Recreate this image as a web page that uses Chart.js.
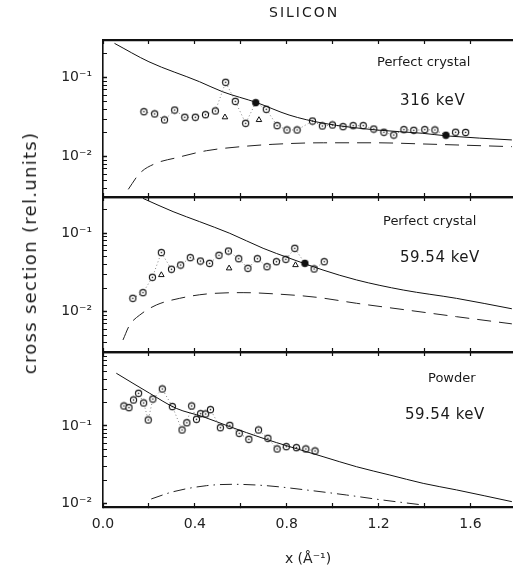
<!DOCTYPE html>
<html><head><meta charset="utf-8">
<script src="https://cdn.jsdelivr.net/npm/chart.js@4.4.1/dist/chart.umd.min.js"></script>
<style>
html,body{margin:0;padding:0;background:#fff;overflow:hidden;}
#wrap{position:relative;width:513px;height:579px;}
canvas{position:absolute;left:0;top:0;}
.lbl{position:absolute;font-family:"DejaVu Sans",sans-serif;color:#1a1a1a;white-space:nowrap;line-height:1;}
</style></head><body>
<div id="wrap">
<canvas id="c1" width="513" height="579"></canvas>
<canvas id="c2" width="513" height="579"></canvas>
<canvas id="c3" width="513" height="579"></canvas>
<div class="lbl" style="left:269px;top:5px;font-size:14px;letter-spacing:2px">SILICON</div>
<div class="lbl" style="left:30px;top:253px;font-size:18px;letter-spacing:1.3px;transform:translate(-50%,-50%) rotate(-90deg)">cross section (rel.units)</div>
<div class="lbl" style="left:377px;top:55px;font-size:13px">Perfect crystal</div>
<div class="lbl" style="left:400px;top:93px;font-size:15px;letter-spacing:0.6px">316 keV</div>
<div class="lbl" style="left:383px;top:214px;font-size:13px">Perfect crystal</div>
<div class="lbl" style="left:400px;top:250px;font-size:15px;letter-spacing:0.5px">59.54 keV</div>
<div class="lbl" style="left:428px;top:371px;font-size:13px">Powder</div>
<div class="lbl" style="left:405px;top:407px;font-size:15px;letter-spacing:0.5px">59.54 keV</div>
</div>
<script>
// ---------- data ----------
const xTickValues = [0.0, 0.2, 0.4, 0.6, 0.8, 1.0, 1.2, 1.4, 1.6];
const xTickLabels = ['0.0', '', '0.4', '', '0.8', '', '1.2', '', '1.6'];
const yDecadeLabels = {'-1': '10\u207B\u00B9', '-2': '10\u207B\u00B2'};

// Panel 1: perfect crystal, 316 keV
const p1SolidX = [0.05, 0.20, 0.42, 0.52, 0.67, 0.81, 0.96, 1.19, 1.39, 1.50, 1.78];
const p1SolidY = [0.272, 0.159, 0.089, 0.0665, 0.0483, 0.0337, 0.0265, 0.0218, 0.0198, 0.0183, 0.0163];
const p1DashX = [0.11, 0.16, 0.23, 0.32, 0.45, 0.60, 0.74, 0.96, 1.19, 1.39, 1.78];
const p1DashY = [0.00386, 0.00617, 0.00824, 0.0097, 0.0119, 0.0134, 0.01435, 0.0150, 0.0150, 0.0145, 0.0134];
const p1PtsX = [0.178, 0.225, 0.268, 0.312, 0.356, 0.402, 0.446, 0.489, 0.534, 0.576, 0.621, 0.665, 0.711, 0.758, 0.801, 0.845,
                0.912, 0.955, 0.999, 1.045, 1.089, 1.133, 1.179, 1.223, 1.266, 1.310, 1.353, 1.401, 1.445, 1.493, 1.535, 1.579];
const p1PtsY = [0.0371, 0.0348, 0.0292, 0.0390, 0.0316, 0.0316, 0.0340, 0.0379, 0.0874, 0.0502, 0.0265, 0.0483, 0.0398, 0.0247, 0.0218, 0.0218,
                0.0283, 0.0245, 0.0252, 0.0240, 0.0247, 0.0247, 0.0224, 0.0204, 0.0188, 0.0220, 0.0216, 0.0220, 0.0218, 0.0187, 0.0204, 0.0203];
const p1TriX = [0.531, 0.679];
const p1TriY = [0.0316, 0.0292];

// Panel 2: perfect crystal, 59.54 keV
const p2SolidX = [0.174, 0.305, 0.421, 0.552, 0.697, 0.813, 0.958, 1.104, 1.307, 1.539, 1.78];
const p2SolidY = [0.279, 0.189, 0.1406, 0.100, 0.0644, 0.0480, 0.0340, 0.0254, 0.0189, 0.0148, 0.0109];
const p2DashX = [0.087, 0.116, 0.16, 0.232, 0.334, 0.45, 0.61, 0.755, 0.929, 1.104, 1.322, 1.539, 1.78];
const p2DashY = [0.00436, 0.00676, 0.00907, 0.01217, 0.01482, 0.01682, 0.0175, 0.01682, 0.01528, 0.0128, 0.01051, 0.00864, 0.0070];
const p2PtsX = [0.130, 0.174, 0.215, 0.254, 0.298, 0.338, 0.380, 0.424, 0.464, 0.505, 0.546, 0.591, 0.631, 0.672, 0.714, 0.755,
                0.796, 0.835, 0.879, 0.919, 0.963];
const p2PtsY = [0.01482, 0.0175, 0.0275, 0.0567, 0.0348, 0.0394, 0.0489, 0.0443, 0.0414, 0.0524, 0.0594, 0.0474, 0.0358, 0.0474, 0.0375, 0.0434,
                0.0466, 0.0644, 0.0414, 0.0351, 0.0434];
const p2TriX = [0.254, 0.549, 0.838];
const p2TriY = [0.0294, 0.0358, 0.0394];

// Panel 3: powder, 59.54 keV
const p3SolidX = [0.058, 0.203, 0.319, 0.435, 0.552, 0.697, 0.813, 0.958, 1.104, 1.249, 1.394, 1.539, 1.78];
const p3SolidY = [0.481, 0.265, 0.169, 0.132, 0.098, 0.0693, 0.054, 0.0401, 0.0297, 0.0232, 0.0181, 0.0149, 0.0105];
const p3DashX = [0.21, 0.305, 0.45, 0.566, 0.711, 0.886, 1.06, 1.22, 1.394];
const p3DashY = [0.01137, 0.0141, 0.0169, 0.0176, 0.0169, 0.01486, 0.0128, 0.0110, 0.0095];
const p3PtsX = [0.091, 0.113, 0.133, 0.155, 0.177, 0.197, 0.217, 0.258, 0.302, 0.344, 0.365, 0.386, 0.407, 0.425, 0.447, 0.468,
                0.511, 0.552, 0.593, 0.635, 0.677, 0.718, 0.758, 0.798, 0.842, 0.883, 0.923];
const p3PtsY = [0.1815, 0.1726, 0.217, 0.265, 0.1986, 0.1197, 0.223, 0.301, 0.178, 0.0888, 0.110, 0.1815, 0.122, 0.144, 0.143, 0.1626,
                0.095, 0.102, 0.0804, 0.0673, 0.0888, 0.0693, 0.0504, 0.054, 0.0524, 0.0504, 0.0475];

// indices of solid (filled) markers
const p1Filled = [11, 29];
const p2Filled = [18];

// ---------- helpers ----------
const zip = (xs, ys) => xs.map((x, i) => ({x: x, y: ys[i]}));

function markerImg(filled) {
  const c = document.createElement('canvas');
  c.width = 9; c.height = 9;
  const g = c.getContext('2d');
  g.beginPath(); g.arc(4.5, 4.5, 3.1, 0, Math.PI * 2);
  g.fillStyle = filled ? '#111' : '#fff'; g.fill();
  g.lineWidth = 1.1; g.strokeStyle = '#111'; g.stroke();
  if (!filled) { g.beginPath(); g.arc(4.5, 4.5, 0.8, 0, Math.PI * 2); g.fillStyle = '#111'; g.fill(); }
  return c;
}
const openMark = markerImg(false), fullMark = markerImg(true);

function yTicks(scale) {
  const out = [];
  for (let e = -3; e <= 0; e++) for (let m = 1; m <= 9; m++) {
    const v = m * Math.pow(10, e);
    if (v >= scale.min * 0.999 && v <= scale.max * 1.001) out.push({value: v, major: m === 1});
  }
  scale.ticks = out;
}
function yLabel(v) {
  const e = Math.round(Math.log10(v));
  if (Math.abs(v / Math.pow(10, e) - 1) < 1e-6 && yDecadeLabels[String(e)]) return yDecadeLabels[String(e)];
  return '';
}
function xTicks(scale) { scale.ticks = xTickValues.map(v => ({value: v})); }

const FONT = {family: '"DejaVu Sans", sans-serif', size: 14};

function panel(id, padTop, padBottom, yMin, yMax, sets, bottom) {
  const xAxis = {
    type: 'linear', position: 'bottom', min: 0, max: 1.785,
    afterBuildTicks: xTicks,
    ticks: {display: bottom, autoSkip: false, maxRotation: 0, padding: 13, color: '#222',
            font: {family: FONT.family, size: 14},
            callback: (v, i) => xTickLabels[i]},
    grid: {drawOnChartArea: false, drawTicks: true, tickLength: -4, tickColor: '#111', tickWidth: 1.2},
    border: {display: true, color: '#111', width: 2.2},
    afterFit: s => { s.height = bottom ? 72 : 0; }
  };
  if (bottom) xAxis.title = {display: true, text: 'x (\u00C5\u207B\u00B9)', color: '#222',
                             font: {family: FONT.family, size: 14}, padding: {top: 0, bottom: 11}};
  return new Chart(document.getElementById(id), {
    type: 'scatter',
    data: {datasets: sets},
    options: {
      responsive: false, maintainAspectRatio: false, animation: false,
      layout: {autoPadding: false, padding: {top: padTop, bottom: padBottom, left: 0, right: 0}},
      plugins: {legend: {display: false}, tooltip: {enabled: false}},
      scales: {
        x: xAxis,
        x2: {type: 'linear', axis: 'x', position: 'top', min: 0, max: 1.785,
             afterBuildTicks: xTicks,
             ticks: {display: false},
             grid: {drawOnChartArea: false, drawTicks: true, tickLength: -4, tickColor: '#111', tickWidth: 1.2},
             border: {display: true, color: '#111', width: 2.2},
             afterFit: s => { s.height = 0; }},
        y: {type: 'logarithmic', min: yMin, max: yMax,
            afterBuildTicks: yTicks,
            ticks: {autoSkip: false, padding: 15, color: '#222', font: FONT, callback: v => yLabel(v)},
            grid: {drawOnChartArea: false, drawTicks: true, tickLength: -4, tickColor: '#111',
                   tickWidth: c => (c.tick && c.tick.major) ? 1.5 : 1},
            border: {display: true, color: '#111', width: 1.6},
            afterFit: s => { s.width = 103; }}
      }
    }
  });
}

function solid(xs, ys) {
  return {data: zip(xs, ys), showLine: true, borderColor: '#111', borderWidth: 1, pointRadius: 0, tension: 0.35, cubicInterpolationMode: 'monotone'};
}
function dashed(xs, ys, dash) {
  return {data: zip(xs, ys), showLine: true, borderColor: '#222', borderWidth: 1, borderDash: dash, pointRadius: 0, tension: 0.35, cubicInterpolationMode: 'monotone'};
}
function points(xs, ys, filled) {
  return {data: zip(xs, ys), showLine: true, borderColor: '#666', borderWidth: 0.8, borderDash: [1, 2.5],
          pointStyle: c => filled.includes(c.dataIndex) ? fullMark : openMark, pointRadius: 3.5};
}
function tris(xs, ys) {
  return {data: zip(xs, ys), showLine: false, pointStyle: 'triangle', pointRadius: 3.2,
          backgroundColor: '#fff', borderColor: '#111', borderWidth: 1};
}

panel('c1', 40, 382, Math.pow(10, -2.51), Math.pow(10, -0.523), [
  solid(p1SolidX, p1SolidY), dashed(p1DashX, p1DashY, [14, 8]),
  points(p1PtsX, p1PtsY, p1Filled), tris(p1TriX, p1TriY)], false);
panel('c2', 197, 227, Math.pow(10, -2.514), Math.pow(10, -0.537), [
  solid(p2SolidX, p2SolidY), dashed(p2DashX, p2DashY, [14, 8]),
  points(p2PtsX, p2PtsY, p2Filled), tris(p2TriX, p2TriY)], false);
panel('c3', 352, 0, Math.pow(10, -2.048), Math.pow(10, -0.043), [
  solid(p3SolidX, p3SolidY), dashed(p3DashX, p3DashY, [12, 5, 1.5, 5]),
  points(p3PtsX, p3PtsY, [])], true);
</script>
</body></html>
